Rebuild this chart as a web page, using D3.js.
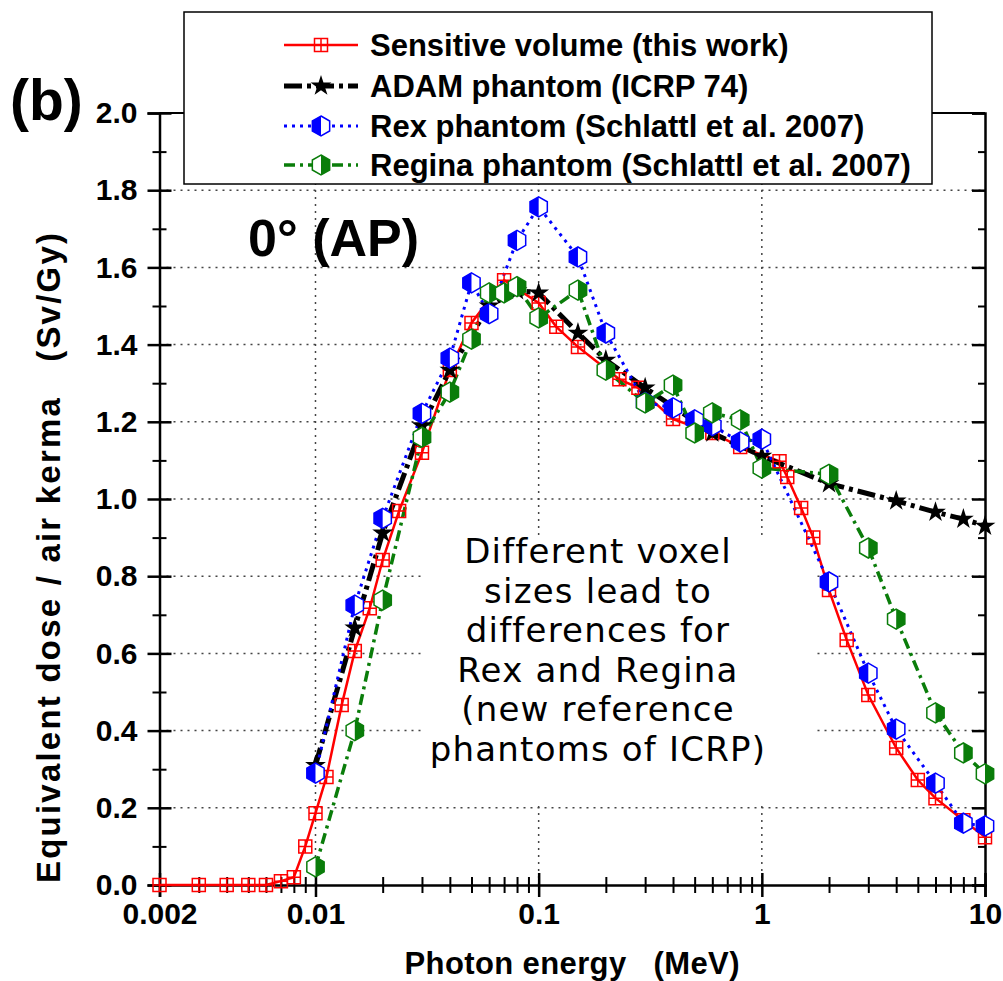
<!DOCTYPE html>
<html lang="en">
<head>
<meta charset="utf-8">
<title>Equivalent dose / air kerma</title>
<script src="https://d3js.org/d3.v7.min.js"></script>
<style>
  body { margin: 0; background: #fff; }
  svg text { font-family: "Liberation Sans", Arial, sans-serif; font-weight: bold; fill: #000; white-space: pre; }
  .note { font-family: "DejaVu Sans", Verdana, sans-serif; font-weight: normal; }
</style>
</head>
<body>
<div id="main"></div>
<script>
// ---- data ----
var redE   = [0.002,0.003,0.004,0.005,0.006,0.007,0.008,0.009,0.01,0.0112,0.0131,0.015,0.0175,0.02,0.0237,0.03,0.04,0.05,0.07,0.1,0.12,0.15,0.23,0.28,0.4,0.6,0.8,1.2,1.3,1.5,1.7,2,2.4,3,4,5,6,8,10]
var redV   = [0,0,0,0,0,0.01,0.02,0.10,0.186,0.28,0.466,0.606,0.717,0.842,0.969,1.12,1.334,1.456,1.567,1.508,1.446,1.394,1.31,1.288,1.207,1.171,1.135,1.098,1.057,0.977,0.90,0.764,0.635,0.492,0.355,0.272,0.225,0.168,0.124]

var adamE  = [0.01,0.015,0.02,0.03,0.04,0.06,0.08,0.1,0.15,0.2,0.3,0.6,1,2,4,6,8,10]
var adamV  = [0.31,0.666,0.912,1.19,1.334,1.50,1.54,1.534,1.43,1.36,1.288,1.171,1.111,1.04,0.995,0.966,0.948,0.93]

var rexE   = [0.01,0.015,0.02,0.03,0.04,0.05,0.06,0.08,0.1,0.15,0.2,0.3,0.4,0.5,0.6,0.8,1,2,3,4,6,8,10]
var rexV   = [0.29,0.725,0.95,1.222,1.365,1.56,1.48,1.67,1.757,1.627,1.43,1.25,1.236,1.205,1.19,1.148,1.155,0.785,0.549,0.404,0.264,0.16,0.153]

var reginaE = [0.01,0.015,0.02,0.03,0.04,0.05,0.06,0.07,0.08,0.1,0.15,0.2,0.3,0.4,0.5,0.6,0.8,1,2,3,4,6,8,10]
var reginaV = [0.047,0.40,0.738,1.16,1.277,1.414,1.534,1.534,1.55,1.469,1.541,1.334,1.249,1.295,1.171,1.223,1.205,1.08,1.064,0.873,0.689,0.446,0.342,0.288]

var yTicks = [0,0.2,0.4,0.6,0.8,1.0,1.2,1.4,1.6,1.8,2.0]
var xLabels = [0.002,0.01,0.1,1,10]
var legendNames = ["Sensitive volume (this work)", "ADAM phantom (ICRP 74)",
                   "Rex phantom (Schlattl et al. 2007)", "Regina phantom (Schlattl et al. 2007)"]
var noteLines = ["Different voxel", "sizes lead to", "differences for", "Rex and Regina",
                 "(new reference", "phantoms of ICRP)"]

var width = 1003, height = 981
var svg = d3.select("#main").append("svg").attr("width", width).attr("height", height)

var x = d3.scaleLog().domain([0.002, 10]).range([159.5, 985])
var y = d3.scaleLinear().domain([0, 2]).range([885, 113])

// gridlines
var grid = svg.append("g").attr("stroke", "#444").attr("stroke-width", 1.5).attr("stroke-dasharray", "2,5")
grid.selectAll(".hg").data(yTicks.filter(d => d > 0 && d < 2)).enter().append("line")
    .attr("x1", x.range()[0]).attr("x2", x.range()[1])
    .attr("y1", d => y(d)).attr("y2", d => y(d))
grid.selectAll(".vg").data([0.01, 0.1, 1]).enter().append("line")
    .attr("x1", d => x(d)).attr("x2", d => x(d))
    .attr("y1", y(2)).attr("y2", y(0))

// white box behind the note
svg.append("rect").attr("x", 425).attr("y", 540).attr("width", 390).attr("height", 265).attr("fill", "#fff")

// axes
var minorX = []
;[0.001, 0.01, 0.1, 1].forEach(function(dec){ for (var k = 2; k <= 9; k++) { var v = dec*k; if (v > 0.002*1.01 && v < 10) minorX.push(v) } })

var gx = svg.append("g").attr("transform", "translate(0," + y(0) + ")")
gx.call(d3.axisBottom(x).tickValues(xLabels).tickSize(12).tickPadding(6).tickFormat(d => String(d)))
gx.selectAll(".tick line").attr("y1", -12).attr("stroke-width", 2.5)
gx.append("g").call(d3.axisBottom(x).tickValues(minorX).tickSize(8).tickFormat(""))
  .call(g => g.select(".domain").remove())
  .selectAll(".tick line").attr("y1", -8).attr("stroke-width", 2)
gx.select(".domain").attr("stroke-width", 2.5)
gx.selectAll("text").style("font-size", "30px").attr("fill", "#000")

var minorY = d3.range(0.1, 2, 0.2)
var gy = svg.append("g").attr("transform", "translate(" + x.range()[0] + ",0)")
gy.call(d3.axisLeft(y).tickValues(yTicks).tickSize(12).tickPadding(10).tickFormat(d3.format(".1f")))
gy.selectAll(".tick line").attr("x1", 12).attr("stroke-width", 2.5)
gy.append("g").call(d3.axisLeft(y).tickValues(minorY).tickSize(7).tickFormat(""))
  .call(g => g.select(".domain").remove())
  .selectAll(".tick line").attr("x1", 7).attr("stroke-width", 2)
gy.select(".domain").attr("stroke-width", 2.5)
gy.selectAll("text").style("font-size", "30px").attr("fill", "#000")

var gr = svg.append("g").attr("transform", "translate(" + x.range()[1] + ",0)")
gr.call(d3.axisLeft(y).tickValues(yTicks).tickSize(13).tickFormat(""))
gr.selectAll(".tick line").attr("stroke-width", 2.5)
gr.append("g").call(d3.axisLeft(y).tickValues(minorY).tickSize(7).tickFormat(""))
  .call(g => g.select(".domain").remove()).selectAll(".tick line").attr("stroke-width", 2)
gr.select(".domain").attr("stroke-width", 2.5)
svg.append("line").attr("x1", x.range()[0]).attr("x2", x.range()[1])
   .attr("y1", y(2)).attr("y2", y(2)).attr("stroke", "#000").attr("stroke-width", 2)

// markers
var hr = 10, hw = hr * Math.sqrt(3) / 2
var hexFull = "M0," + (-hr) + "L" + hw + "," + (-hr/2) + "L" + hw + "," + (hr/2) + "L0," + hr +
              "L" + (-hw) + "," + (hr/2) + "L" + (-hw) + "," + (-hr/2) + "Z"
var hexLeft = "M0," + (-hr) + "L" + (-hw) + "," + (-hr/2) + "L" + (-hw) + "," + (hr/2) + "L0," + hr + "Z"
var hexRight = "M0," + (-hr) + "L" + hw + "," + (-hr/2) + "L" + hw + "," + (hr/2) + "L0," + hr + "Z"
var sq = "M-6.5,-6.5h13v13h-13z M0,-6.5v13 M-6.5,0h13"
var star = d3.symbol().type(d3.symbolStar).size(135)()

var series = [
  { e: redE, v: redV, color: "#ff0000", width: 2.5, dash: null, kind: "sq" },
  { e: adamE, v: adamV, color: "#000000", width: 5, dash: "18,5,4,5", kind: "star" },
  { e: rexE, v: rexV, color: "#0000ff", width: 3, dash: "3,5", kind: "hexL" },
  { e: reginaE, v: reginaV, color: "#0a7d0a", width: 3.5, dash: "11,5,3,5", kind: "hexR" }
]

function drawMarker(g, kind, color) {
  if (kind == "sq") {
    g.append("path").attr("d", sq).attr("fill", "none").attr("stroke", color).attr("stroke-width", 1.5)
  } else if (kind == "star") {
    g.append("path").attr("d", star).attr("fill", "#000")
  } else {
    g.append("path").attr("d", hexFull).attr("fill", "#fff").attr("stroke", "none")
    g.append("path").attr("d", kind == "hexL" ? hexLeft : hexRight).attr("fill", color)
    g.append("path").attr("d", hexFull).attr("fill", "none").attr("stroke", color).attr("stroke-width", 1.5)
  }
}

var line = d3.line().x(d => x(d[0])).y(d => y(d[1]))
series.forEach(function(s) {
  var pts = s.e.map((e, i) => [e, s.v[i]])
  svg.append("path").datum(pts).attr("d", line).attr("fill", "none")
     .attr("stroke", s.color).attr("stroke-width", s.width)
     .attr("stroke-dasharray", s.dash)
})
series.forEach(function(s) {
  s.e.forEach(function(e, i) {
    var g = svg.append("g").attr("transform", "translate(" + x(e) + "," + y(s.v[i]) + ")")
    drawMarker(g, s.kind, s.color)
  })
})

// legend
var lg = svg.append("g")
lg.append("rect").attr("x", 184).attr("y", 12).attr("width", 748).attr("height", 172)
  .attr("fill", "#fff").attr("stroke", "#000").attr("stroke-width", 1.5)
var rowY = [45, 86, 126, 165]
series.forEach(function(s, i) {
  lg.append("line").attr("x1", 284).attr("x2", 358).attr("y1", rowY[i]).attr("y2", rowY[i])
    .attr("stroke", s.color).attr("stroke-width", s.width).attr("stroke-dasharray", s.dash)
  drawMarker(lg.append("g").attr("transform", "translate(321," + rowY[i] + ")"), s.kind, s.color)
  lg.append("text").attr("x", 370).attr("y", rowY[i] + 11).style("font-size", "31px").text(legendNames[i])
})

// labels
svg.append("text").attr("x", 10).attr("y", 120).style("font-size", "57px").text("(b)")
svg.append("text").attr("x", 248).attr("y", 256).style("font-size", "52px").text("0\u00b0 (AP)")
svg.append("text").attr("x", 572).attr("y", 974).attr("text-anchor", "middle")
   .attr("textLength", 335).style("font-size", "31px").text("Photon energy   (MeV)")
svg.append("text").attr("transform", "translate(60,558) rotate(-90)").attr("text-anchor", "middle")
   .attr("textLength", 650).style("font-size", "33px").text("Equivalent dose / air kerma   (Sv/Gy)")

svg.append("g").selectAll("text").data(noteLines).enter().append("text")
   .attr("class", "note").attr("x", 598).attr("y", (d, i) => 563 + i * 39.5)
   .attr("text-anchor", "middle").style("font-size", "34px").style("letter-spacing", "1.2px").text(d => d)
</script>
</body>
</html>
